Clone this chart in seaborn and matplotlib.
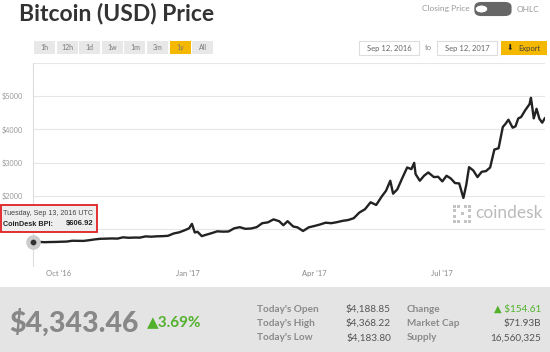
import pandas as pd
import matplotlib
matplotlib.use("Agg")
import matplotlib.pyplot as plt
from matplotlib.patches import Rectangle, FancyBboxPatch, Circle
import seaborn as sns

# Donnees (cours de cloture BPI, USD)
dates = ["2016-09-13", "2016-09-17", "2016-09-21", "2016-09-25", "2016-09-29",
         "2016-10-03", "2016-10-07", "2016-10-11", "2016-10-15", "2016-10-19",
         "2016-10-23", "2016-10-27", "2016-10-31", "2016-11-04", "2016-11-08",
         "2016-11-12", "2016-11-16", "2016-11-20", "2016-11-24", "2016-11-28",
         "2016-12-02", "2016-12-06", "2016-12-10", "2016-12-14", "2016-12-18",
         "2016-12-22", "2016-12-26", "2016-12-30", "2017-01-02", "2017-01-04",
         "2017-01-06", "2017-01-08", "2017-01-11", "2017-01-14", "2017-01-18",
         "2017-01-22", "2017-01-26", "2017-01-30", "2017-02-03", "2017-02-07",
         "2017-02-11", "2017-02-15", "2017-02-19", "2017-02-23", "2017-02-27",
         "2017-03-03", "2017-03-07", "2017-03-10", "2017-03-13", "2017-03-17",
         "2017-03-20", "2017-03-24", "2017-03-28", "2017-04-01", "2017-04-05",
         "2017-04-09", "2017-04-13", "2017-04-17", "2017-04-21", "2017-04-25",
         "2017-04-29", "2017-05-03", "2017-05-07", "2017-05-11", "2017-05-15",
         "2017-05-19", "2017-05-22", "2017-05-25", "2017-05-27", "2017-05-30",
         "2017-06-02", "2017-06-06", "2017-06-09", "2017-06-11", "2017-06-12",
         "2017-06-15", "2017-06-18", "2017-06-21", "2017-06-25", "2017-06-28",
         "2017-07-01", "2017-07-04", "2017-07-07", "2017-07-10", "2017-07-13",
         "2017-07-16", "2017-07-18", "2017-07-20", "2017-07-23", "2017-07-26",
         "2017-07-29", "2017-08-01", "2017-08-04", "2017-08-07", "2017-08-10",
         "2017-08-13", "2017-08-15", "2017-08-17", "2017-08-20", "2017-08-22",
         "2017-08-24", "2017-08-26", "2017-08-29", "2017-09-01", "2017-09-02",
         "2017-09-03", "2017-09-04", "2017-09-06", "2017-09-08", "2017-09-10",
         "2017-09-12"]
prix = [607, 607, 597, 602, 605,
        611, 616, 641, 638, 636,
        657, 682, 700, 704, 710,
        705, 744, 730, 737, 735,
        772, 763, 774, 779, 790,
        860, 895, 960, 1017, 1150,
        890, 910, 780, 820, 870,
        925, 915, 920, 1015, 1050,
        1000, 1010, 1050, 1170, 1195,
        1285, 1230, 1110, 1230, 1070,
        1045, 935, 1045, 1085, 1130,
        1185, 1170, 1200, 1240, 1265,
        1320, 1490, 1590, 1800, 1720,
        1980, 2150, 2450, 2060, 2190,
        2480, 2850, 2800, 2990, 2650,
        2450, 2600, 2700, 2560, 2570,
        2430, 2600, 2520, 2380, 2370,
        1930, 2320, 2860, 2760, 2560,
        2720, 2740, 2850, 3390, 3430,
        4070, 4170, 4290, 4050, 4090,
        4330, 4370, 4580, 4760, 4950,
        4650, 4330, 4620, 4320, 4200,
        4343]

y_ticks = [1000, 2000, 3000, 4000, 5000, 6000]
y_labels = ["", "$2000", "$3000", "$4000", "$5000", ""]
x_ticks = ["2016-10-01", "2017-01-01", "2017-04-01", "2017-07-01"]
x_labels = ["Oct '16", "Jan '17", "Apr '17", "Jul '17"]
boutons = ["1h", "12h", "1d", "1w", "1m", "3m", "1y", "All"]
stats_gauche = [("Today's Open", "$4,188.85"), ("Today's High", "$4,368.22"), ("Today's Low", "$4,183.80")]
stats_droite = [("Change", "\u25b2 $154.61"), ("Market Cap", "$71.93B"), ("Supply", "16,560,325")]

df = pd.DataFrame({"Date": pd.to_datetime(dates), "Prix": prix})

sns.set_style("white")
plt.rcParams["font.family"] = ["Lato", "DejaVu Sans"]

W, H = 550, 352
fig = plt.figure(figsize=(5.5, 3.52), dpi=100)


def fx(x):
    return x / W


def fy(y):
    return 1 - y / H


ax = fig.add_axes([fx(33), fy(262), fx(545) - fx(33), fy(63) - fy(262)])
sns.lineplot(data=df, x="Date", y="Prix", ax=ax, color="#222222", linewidth=1.7)
ax.set_xlim(pd.Timestamp("2016-09-13"), pd.Timestamp("2017-09-12"))
ax.set_ylim(0, 6000)
ax.set_yticks(y_ticks)
ax.set_yticklabels(y_labels)
ax.set_xticks(pd.to_datetime(x_ticks))
ax.set_xticklabels(x_labels)
ax.grid(axis="y", color="#e6e6e6", linewidth=0.8)
ax.set_xlabel("")
ax.set_ylabel("")
for s in ax.spines.values():
    s.set_visible(False)
ax.tick_params(axis="y", length=0, labelsize=5.2, labelcolor="#999999", pad=7)
ax.tick_params(axis="x", length=4, color="#b8cde6", labelsize=5.5, labelcolor="#888888", pad=2)
ax.axvline(pd.Timestamp("2016-09-13"), color="#dddddd", linewidth=0.8, ymin=-0.02, clip_on=False)

# point de survol
ax.scatter([pd.Timestamp("2016-09-13")], [607], s=90, color="#cccccc", zorder=4, clip_on=False)
ax.scatter([pd.Timestamp("2016-09-13")], [607], s=10, color="#333333", zorder=5, clip_on=False)

# titre
fig.text(fx(19), fy(13), "Bitcoin (USD) Price", fontsize=16.5, fontweight="bold", color="#333333", va="center")

# interrupteur
fig.text(fx(470), fy(9), "Closing Price", fontsize=6, color="#999999", ha="right", va="center")
fig.patches.append(FancyBboxPatch((fx(475), fy(15.5)), fx(36), fy(2.5) - fy(15.5),
                                  boxstyle="round,pad=0,rounding_size=0.012", transform=fig.transFigure,
                                  facecolor="#666666", edgecolor="#666666", linewidth=0.8))
fig.patches.append(Circle((fx(481.5), fy(9)), 0.0115, transform=fig.transFigure,
                          facecolor="white", edgecolor="#666666", linewidth=0.8))
fig.text(fx(517), fy(9), "OHLC", fontsize=6, color="#999999", va="center")

# boutons de periode
for i, b in enumerate(boutons):
    x0 = 34 + i * 22.6
    couleur = "#f5b800" if b == "1y" else "#e8e8e8"
    fig.patches.append(Rectangle((fx(x0), fy(54)), fx(21), fy(41) - fy(54), transform=fig.transFigure,
                                 facecolor=couleur, edgecolor="none"))
    fig.text(fx(x0 + 10.5), fy(47.5), b, fontsize=5, color="#777777", ha="center", va="center")

# dates et export
for x0, t in [(359, "Sep 12, 2016"), (437, "Sep 12, 2017")]:
    fig.patches.append(Rectangle((fx(x0), fy(55)), fx(60), fy(41) - fy(55), transform=fig.transFigure,
                                 facecolor="white", edgecolor="#dddddd", linewidth=0.8))
    fig.text(fx(x0 + 30), fy(48), t, fontsize=5.5, color="#666666", ha="center", va="center")
fig.text(fx(428), fy(48), "to", fontsize=5.5, color="#888888", ha="center", va="center")
fig.patches.append(Rectangle((fx(501), fy(55)), fx(46), fy(41) - fy(55), transform=fig.transFigure,
                             facecolor="#f5b800", edgecolor="none"))
fig.text(fx(510), fy(48), "\u2b07", fontsize=5.5, color="#222222", ha="center", va="center",
         family=["DejaVu Sans"])
fig.text(fx(518), fy(48), "Export", fontsize=5.5, color="#444444", va="center")

# filigrane
for cx, cy in [(454, 206), (458, 206), (454, 211), (454, 216), (454, 221), (458, 221),
               (465, 206), (469, 206), (469, 211), (469, 216), (465, 221), (469, 221), (462, 213)]:
    fig.patches.append(Rectangle((fx(cx - 1.5), fy(cy + 1.5)), fx(3), fy(0) - fy(3), transform=fig.transFigure,
                                 facecolor="#c4c4c4", edgecolor="none"))
fig.text(fx(475), fy(213), "coindesk", fontsize=12.5, color="#bbbbbb", va="center")

# infobulle
fig.patches.append(Rectangle((fx(1), fy(232)), fx(96), fy(205) - fy(232), transform=fig.transFigure,
                             facecolor="#eeeeee", edgecolor="#e02020", linewidth=1.3, zorder=6))
fig.text(fx(3), fy(213.5), "Tuesday, Sep 13, 2016 UTC", fontsize=5.1, color="#444444", va="center", zorder=7,
         family=["Liberation Sans", "DejaVu Sans"])
fig.text(fx(3), fy(224), "CoinDesk BPI:", fontsize=5.2, color="#222222", fontweight="bold", va="center", zorder=7,
         family=["Liberation Sans", "DejaVu Sans"])
fig.text(fx(93), fy(224), "$606.92", fontsize=5.5, color="#222222", fontweight="bold", ha="right", va="center",
         zorder=7, family=["Liberation Sans", "DejaVu Sans"])

# panneau du bas
fig.patches.append(Rectangle((0, 0), 1, fy(287), transform=fig.transFigure, facecolor="#e4e4e4", edgecolor="none"))
fig.text(fx(9), fy(323), "$4,343.46", fontsize=20.5, fontweight="black", color="#888888", va="center")
fig.text(fx(147), fy(322), "\u25b23.69%", fontsize=11, fontweight="bold", color="#52b12c", va="center",
         family=["Lato", "DejaVu Sans"])
for i, (lab, val) in enumerate(stats_gauche):
    y = 309 + i * 14.5
    fig.text(fx(257), fy(y), lab, fontsize=7.2, fontweight="bold", color="#8a8a8a", va="center")
    fig.text(fx(391), fy(y), val, fontsize=7.2, color="#555555", ha="right", va="center")
for i, (lab, val) in enumerate(stats_droite):
    y = 309 + i * 14.5
    fig.text(fx(407), fy(y), lab, fontsize=7.2, fontweight="bold", color="#8a8a8a", va="center")
    couleur = "#52b12c" if lab == "Change" else "#555555"
    fig.text(fx(541), fy(y), val, fontsize=7.2, color=couleur, ha="right", va="center",
             family=["Lato", "DejaVu Sans"])

plt.savefig("out.png", dpi=100)
